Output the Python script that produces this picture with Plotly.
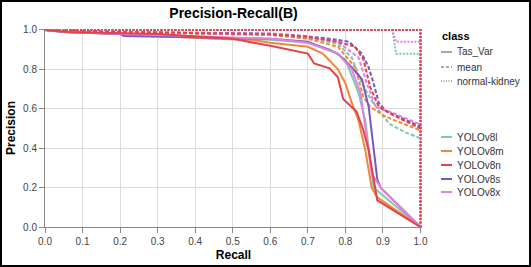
import plotly.graph_objects as go

# ---------------- data ----------------
models = ["YOLOv8l", "YOLOv8m", "YOLOv8n", "YOLOv8s", "YOLOv8x"]
classes = ["Tas_Var", "mean", "normal-kidney"]
model_colors = ["#7cc9b3", "#f0873a", "#e2434b", "#7657c4", "#e283dc"]

# Tas_Var (solid)
l_tas_r = [0.0, 0.05, 0.2, 0.4, 0.6, 0.7, 0.76, 0.8, 0.835, 0.853, 0.866, 0.875, 1.0]
l_tas_p = [1.0, 0.99, 0.98, 0.965, 0.95, 0.935, 0.9, 0.85, 0.68, 0.54, 0.34, 0.2, 0.0]
m_tas_r = [0.0, 0.06, 0.2, 0.45, 0.55, 0.6, 0.7, 0.74, 0.78, 0.8, 0.817, 0.835, 0.853, 0.87, 0.885, 1.0]
m_tas_p = [1.0, 0.99, 0.98, 0.955, 0.95, 0.935, 0.915, 0.88, 0.8, 0.73, 0.63, 0.54, 0.39, 0.2, 0.15, 0.0]
n_tas_r = [0.0, 0.06, 0.3, 0.5, 0.6, 0.65, 0.7, 0.717, 0.758, 0.78, 0.794, 0.83, 0.848, 0.862, 0.885, 1.0]
n_tas_p = [1.0, 0.99, 0.98, 0.955, 0.92, 0.9, 0.88, 0.83, 0.805, 0.76, 0.65, 0.585, 0.49, 0.39, 0.135, 0.0]
s_tas_r = [0.0, 0.05, 0.2, 0.21, 0.35, 0.6, 0.7, 0.78, 0.817, 0.844, 0.862, 0.87, 0.885, 0.894, 1.0]
s_tas_p = [1.0, 0.99, 0.98, 0.97, 0.965, 0.955, 0.94, 0.88, 0.81, 0.75, 0.61, 0.475, 0.24, 0.2, 0.0]
x_tas_r = [0.0, 0.05, 0.3, 0.6, 0.7, 0.78, 0.817, 0.84, 0.853, 0.87, 0.898, 1.0]
x_tas_p = [1.0, 0.99, 0.975, 0.955, 0.935, 0.88, 0.8, 0.68, 0.51, 0.27, 0.19, 0.0]

# mean (dashed)
l_mean_r = [0.0, 0.2, 0.6, 0.7, 0.78, 0.817, 0.844, 0.87, 0.916, 0.96, 1.0]
l_mean_p = [1.0, 0.99, 0.975, 0.96, 0.93, 0.86, 0.73, 0.64, 0.525, 0.48, 0.45]
m_mean_r = [0.0, 0.2, 0.6, 0.7, 0.78, 0.826, 0.848, 0.866, 0.907, 1.0]
m_mean_p = [1.0, 0.99, 0.975, 0.955, 0.915, 0.81, 0.66, 0.61, 0.56, 0.49]
n_mean_r = [0.0, 0.2, 0.6, 0.7, 0.78, 0.826, 0.848, 0.866, 0.889, 0.925, 1.0]
n_mean_p = [1.0, 0.99, 0.978, 0.965, 0.94, 0.915, 0.85, 0.71, 0.61, 0.57, 0.5]
s_mean_r = [0.0, 0.2, 0.6, 0.69, 0.78, 0.81, 0.844, 0.862, 0.875, 0.889, 0.907, 1.0]
s_mean_p = [1.0, 0.99, 0.982, 0.97, 0.95, 0.94, 0.88, 0.81, 0.73, 0.63, 0.59, 0.51]
x_mean_r = [0.0, 0.2, 0.6, 0.7, 0.78, 0.835, 0.857, 0.88, 0.925, 1.0]
x_mean_p = [1.0, 0.99, 0.978, 0.965, 0.94, 0.86, 0.73, 0.61, 0.58, 0.52]

# normal-kidney (dotted)
l_nk_r = [0.0, 0.925, 0.93, 0.935, 1.0, 1.0]
l_nk_p = [1.0, 1.0, 0.94, 0.88, 0.88, 0.0]
m_nk_r = [0.0, 1.0, 1.0]
m_nk_p = [1.0, 1.0, 0.0]
n_nk_r = [0.0, 1.0, 1.0]
n_nk_p = [1.0, 1.0, 0.0]
s_nk_r = [0.0, 1.0, 1.0]
s_nk_p = [1.0, 1.0, 0.0]
x_nk_r = [0.0, 0.925, 0.935, 1.0, 1.0]
x_nk_p = [1.0, 1.0, 0.94, 0.94, 0.0]

x_ticks = [0.0, 0.1, 0.2, 0.3, 0.4, 0.5, 0.6, 0.7, 0.8, 0.9, 1.0]
y_ticks = [0.0, 0.2, 0.4, 0.6, 0.8, 1.0]

series = {
    "YOLOv8l": [(l_tas_r, l_tas_p), (l_mean_r, l_mean_p), (l_nk_r, l_nk_p)],
    "YOLOv8m": [(m_tas_r, m_tas_p), (m_mean_r, m_mean_p), (m_nk_r, m_nk_p)],
    "YOLOv8n": [(n_tas_r, n_tas_p), (n_mean_r, n_mean_p), (n_nk_r, n_nk_p)],
    "YOLOv8s": [(s_tas_r, s_tas_p), (s_mean_r, s_mean_p), (s_nk_r, s_nk_p)],
    "YOLOv8x": [(x_tas_r, x_tas_p), (x_mean_r, x_mean_p), (x_nk_r, x_nk_p)],
}

# ---------------- figure ----------------
W, H = 531, 267
ML, MR, MT, MB = 45, 109, 29, 40
PW, PH = W - ML - MR, H - MT - MB
FONT = "Liberation Sans, Arial, sans-serif"
dashes = ["solid", "4px,2px", "2px,1.5px"]
color_of = dict(zip(models, model_colors))

fig = go.Figure()
draw_order = ["YOLOv8l", "YOLOv8m", "YOLOv8s", "YOLOv8x", "YOLOv8n"]
for ci in [2, 1, 0]:
    for m in draw_order:
        r, p = series[m][ci]
        fig.add_trace(go.Scatter(
            x=r, y=p, mode="lines", name=f"{m} {classes[ci]}",
            line=dict(color=color_of[m], width=2, dash=dashes[ci]),
            showlegend=False, hoverinfo="skip"))

def px_x(px):
    return (px - ML) / PW

def px_y(py):
    return (H - MB - py) / PH

shapes = []
annotations = []
# legend: class (stroke dash)
annotations.append(dict(x=px_x(440), y=px_y(36), xref="paper", yref="paper",
                        text="<b>class</b>", showarrow=False, xanchor="left", yanchor="middle",
                        font=dict(family=FONT, size=11, color="#000")))
class_y = [52, 67, 81]
for i, c in enumerate(classes):
    shapes.append(dict(type="line", xref="paper", yref="paper",
                       x0=px_x(441), x1=px_x(452), y0=px_y(class_y[i]), y1=px_y(class_y[i]),
                       line=dict(color="#8c8c8c", width=1.5, dash=["solid", "3px,2px", "1px,1.5px"][i])))
    annotations.append(dict(x=px_x(455), y=px_y(class_y[i]), xref="paper", yref="paper",
                            text=c, showarrow=False, xanchor="left", yanchor="middle",
                            font=dict(family=FONT, size=10, color="#333")))
# legend: models (colour)
model_y = [137, 151, 165, 179, 192]
for i, m in enumerate(models):
    shapes.append(dict(type="line", xref="paper", yref="paper",
                       x0=px_x(441), x1=px_x(452), y0=px_y(model_y[i]), y1=px_y(model_y[i]),
                       line=dict(color=model_colors[i], width=2)))
    annotations.append(dict(x=px_x(455), y=px_y(model_y[i]), xref="paper", yref="paper",
                            text=m, showarrow=False, xanchor="left", yanchor="middle",
                            font=dict(family=FONT, size=10, color="#333")))
# outer frame
shapes.append(dict(type="rect", xref="paper", yref="paper",
                   x0=px_x(0), x1=px_x(W), y0=px_y(H), y1=px_y(0),
                   line=dict(color="#000", width=4), fillcolor="rgba(0,0,0,0)"))

fig.update_layout(
    width=W, height=H,
    margin=dict(l=ML, r=MR, t=MT, b=MB, autoexpand=False),
    paper_bgcolor="white", plot_bgcolor="white",
    title=dict(text="<b>Precision-Recall(B)</b>", x=0.5, xref="paper", xanchor="center",
               y=1 - 13 / H, yanchor="middle",
               font=dict(family=FONT, size=14, color="#000")),
    font=dict(family=FONT),
    showlegend=False,
    shapes=shapes, annotations=annotations,
    xaxis=dict(range=[0, 1.004], tickvals=x_ticks, ticktext=[f"{v:.1f}" for v in x_ticks],
               showgrid=True, gridcolor="#dcdcdc", gridwidth=1, zeroline=False,
               showline=True, linecolor="#888", linewidth=1,
               ticks="outside", ticklen=5, tickcolor="#888",
               tickfont=dict(family=FONT, size=10, color="#444"),
               title=dict(text="<b>Recall</b>", font=dict(family=FONT, size=12, color="#000"), standoff=4)),
    yaxis=dict(range=[0, 1.005], tickvals=y_ticks, ticktext=[f"{v:.1f}" for v in y_ticks],
               showgrid=True, gridcolor="#dcdcdc", gridwidth=1, zeroline=False,
               showline=True, linecolor="#888", linewidth=1,
               ticks="outside", ticklen=5, tickcolor="#888",
               tickfont=dict(family=FONT, size=10, color="#444"),
               title=dict(text="<b>Precision</b>", font=dict(family=FONT, size=12, color="#000"), standoff=4)),
)

fig.write_html("out.html", config={"displayModeBar": False},
               post_script="document.body.style.margin='0';document.body.style.padding='0';")
